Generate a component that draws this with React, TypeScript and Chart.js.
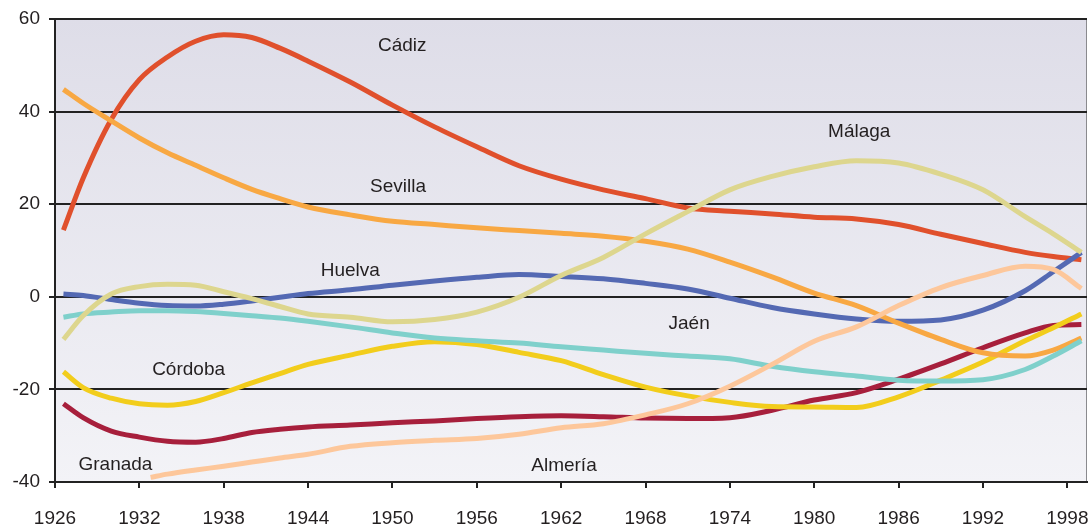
import React, { useEffect, useRef } from "react";
import { Chart, registerables } from "chart.js";

Chart.register(...registerables);

const years = [1926.6, 1928, 1930, 1932, 1934, 1936, 1938, 1940, 1942, 1944, 1947, 1950, 1953, 1956, 1959, 1962, 1965, 1968, 1971, 1974, 1977, 1980, 1983, 1986, 1989, 1992, 1995, 1997, 1999];

const cadiz = [14.4, 25.6, 38.3, 46.9, 51.8, 55.2, 56.6, 56.0, 53.7, 50.9, 46.4, 41.4, 36.7, 32.4, 28.3, 25.4, 23.1, 21.2, 19.2, 18.5, 17.9, 17.2, 16.8, 15.6, 13.5, 11.5, 9.6, 8.7, 8.0];
const sevilla = [44.8, 41.8, 38.0, 34.3, 31.1, 28.4, 25.7, 23.2, 21.2, 19.4, 17.7, 16.3, 15.6, 14.9, 14.3, 13.7, 13.1, 12.0, 10.3, 7.5, 4.3, 0.8, -1.9, -5.7, -9.2, -12.1, -12.8, -11.5, -8.9];
const malaga = [-9.2, -4.1, 0.6, 2.2, 2.7, 2.5, 1.1, -0.4, -2.1, -3.7, -4.4, -5.4, -4.9, -3.3, -0.1, 4.6, 8.5, 13.6, 18.4, 23.1, 26.0, 28.1, 29.4, 28.9, 26.5, 23.1, 17.3, 13.6, 9.6];
const huelva = [0.6, 0.3, -0.6, -1.4, -1.9, -2.0, -1.6, -0.9, -0.1, 0.7, 1.5, 2.5, 3.4, 4.2, 4.8, 4.4, 3.9, 2.9, 1.7, -0.3, -2.3, -3.7, -4.8, -5.3, -5.0, -2.9, 1.3, 5.4, 9.6];
const jaen = [-4.4, -3.7, -3.3, -3.0, -3.0, -3.2, -3.6, -4.1, -4.6, -5.3, -6.5, -7.8, -8.9, -9.5, -10.0, -10.8, -11.5, -12.2, -12.8, -13.4, -15.0, -16.2, -17.1, -18.0, -18.2, -17.9, -15.7, -12.8, -9.5];
const cordoba = [-16.2, -19.6, -21.9, -23.1, -23.4, -22.6, -20.7, -18.6, -16.6, -14.6, -12.6, -10.7, -9.7, -10.3, -12.0, -13.8, -16.8, -19.5, -21.4, -22.8, -23.7, -23.8, -23.9, -21.6, -18.0, -14.1, -9.5, -6.7, -3.7];
const granada = [-23.1, -26.1, -29.0, -30.3, -31.2, -31.4, -30.6, -29.3, -28.6, -28.1, -27.7, -27.2, -26.8, -26.3, -25.9, -25.7, -25.9, -26.2, -26.3, -26.1, -24.5, -22.3, -20.7, -17.8, -14.5, -11.0, -7.8, -6.2, -6.0];

const almeriaYears = [1932.8, 1934, 1936, 1938, 1940, 1942, 1944, 1947, 1950, 1953, 1956, 1959, 1962, 1965, 1968, 1971, 1974, 1977, 1980, 1983, 1986, 1989, 1992, 1995, 1997, 1999];
const almeria = [-39.0, -38.3, -37.4, -36.6, -35.7, -34.8, -34.0, -32.3, -31.5, -31.0, -30.6, -29.7, -28.3, -27.4, -25.5, -23.1, -19.3, -14.6, -9.6, -6.5, -1.9, 2.0, 4.6, 6.6, 5.9, 1.8];

const xTicks = [1926, 1932, 1938, 1944, 1950, 1956, 1962, 1968, 1974, 1980, 1986, 1992, 1998];
const yTicks = [-40, -20, 0, 20, 40, 60];

const labelNames = ["Cádiz", "Sevilla", "Málaga", "Huelva", "Jaén", "Córdoba", "Granada", "Almería"];
const labelYears = [1950.7, 1950.4, 1983.2, 1947.0, 1971.1, 1935.5, 1930.3, 1962.2];
const labelValues = [54.3, 23.8, 35.7, 5.6, -5.9, -15.8, -36.3, -36.4];

const FONT = "'Liberation Sans', Arial, Helvetica, sans-serif";
const TEXT = "#231f20";

const pts = (xs: number[], ys: number[]) => xs.map((x, i) => ({ x, y: ys[i] }));

const bgPlugin = {
  id: "bgPlugin",
  beforeDraw(chart: any) {
    const { ctx, chartArea } = chart;
    if (!chartArea) return;
    const g = ctx.createLinearGradient(0, chartArea.top, 0, chartArea.bottom);
    g.addColorStop(0, "#dedde8");
    g.addColorStop(1, "#f3f3f7");
    ctx.save();
    ctx.fillStyle = g;
    ctx.fillRect(chartArea.left, chartArea.top, chartArea.right - chartArea.left, chartArea.bottom - chartArea.top);
    ctx.strokeStyle = "#8a8a8e";
    ctx.lineWidth = 1;
    ctx.beginPath();
    ctx.moveTo(chartArea.right - 0.5, chartArea.top);
    ctx.lineTo(chartArea.right - 0.5, chartArea.bottom);
    ctx.stroke();
    ctx.restore();
  },
};

const labelPlugin = {
  id: "labelPlugin",
  afterDatasetsDraw(chart: any) {
    const { ctx, scales } = chart;
    ctx.save();
    ctx.font = `19px ${FONT}`;
    ctx.fillStyle = TEXT;
    ctx.textAlign = "center";
    ctx.textBaseline = "middle";
    labelNames.forEach((name, i) => {
      ctx.fillText(name, scales.x.getPixelForValue(labelYears[i]), scales.y.getPixelForValue(labelValues[i]));
    });
    ctx.restore();
  },
};

export default function App() {
  const ref = useRef<HTMLCanvasElement>(null);
  useEffect(() => {
    if (!ref.current) return;
    const mk = (label: string, xs: number[], ys: number[], color: string) => ({
      label,
      data: pts(xs, ys),
      borderColor: color,
      backgroundColor: color,
      borderWidth: 5,
      pointRadius: 0,
      fill: false,
      cubicInterpolationMode: "monotone" as const,
      borderCapStyle: "butt" as const,
      borderJoinStyle: "round" as const,
    });
    const chart = new Chart(ref.current, {
      type: "line",
      data: {
        datasets: [
          mk("Almería", almeriaYears, almeria, "#fdc79b"),
          mk("Málaga", years, malaga, "#ddd68e"),
          mk("Jaén", years, jaen, "#7fd0cb"),
          mk("Sevilla", years, sevilla, "#f8a843"),
          mk("Córdoba", years, cordoba, "#f2cd1c"),
          mk("Granada", years, granada, "#a71f3c"),
          mk("Huelva", years, huelva, "#5469b3"),
          mk("Cádiz", years, cadiz, "#e0502c"),
        ],
      },
      options: {
        animation: false,
        responsive: false,
        maintainAspectRatio: false,
        layout: { padding: { top: 19, right: 2, left: 0, bottom: 0 } },
        plugins: { legend: { display: false }, tooltip: { enabled: false } },
        scales: {
          x: {
            type: "linear",
            min: 1926,
            max: 1999.4,
            afterBuildTicks: (s: any) => {
              s.ticks = xTicks.map((v) => ({ value: v }));
            },
            afterFit: (s: any) => {
              s.height = 42;
              s.paddingLeft = 0;
              s.paddingRight = 0;
            },
            ticks: {
              color: TEXT,
              font: { size: 19, family: FONT },
              padding: 19,
              maxRotation: 0,
              autoSkip: false,
              callback: (v: any) => String(v),
            },
            grid: { drawOnChartArea: false, drawTicks: true, tickLength: 6, color: "#222", lineWidth: 2 },
            border: { display: true, color: "#222", width: 2 },
          },
          y: {
            min: -40,
            max: 60,
            afterBuildTicks: (s: any) => {
              s.ticks = yTicks.map((v) => ({ value: v }));
            },
            afterFit: (s: any) => {
              s.width = 55;
              s.paddingTop = 0;
              s.paddingBottom = 0;
            },
            ticks: {
              color: TEXT,
              font: { size: 19, family: FONT },
              padding: 9,
              callback: (v: any) => String(v),
            },
            grid: { color: "#222", lineWidth: 2, drawTicks: true, tickLength: 6 },
            border: { display: true, color: "#222", width: 2 },
          },
        },
      },
      plugins: [bgPlugin, labelPlugin],
    });
    return () => chart.destroy();
  }, []);
  return (
    <div style={{ position: "fixed", left: 0, top: 0, width: 1089, height: 524, background: "#fff" }}>
      <canvas ref={ref} width={1089} height={524} style={{ width: 1089, height: 524, display: "block" }} />
    </div>
  );
}
